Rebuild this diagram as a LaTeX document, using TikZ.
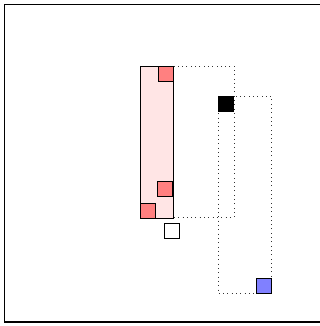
\documentclass[tikz,border=0pt]{standalone}
\begin{document}
\begin{tikzpicture}[x=1pt,y=-1pt,
  sq/.style={draw=black,line width=0.9pt,minimum size=15pt,inner sep=0pt,anchor=north west},
  dotbox/.style={draw=black!80,line width=0.7pt,dash pattern=on 0.7pt off 3.6pt}]
\useasboundingbox (0,0) rectangle (320,326);
\draw[line width=1.8pt] (4.5,4.5) rectangle (322,322);
% dotted boxes
\draw[dotbox] (140,66) rectangle (234,217);
\draw[dotbox] (218,96) rectangle (271,293);
% pink column
\fill[red!10] (140,66) rectangle (173,218);
\draw[line width=0.9pt] (140,66) rectangle (173,218);
% squares
\node[sq,fill=red!50] (r1) at (158,66) {};
\node[sq,fill=red!50] (r2) at (157,181) {};
\node[sq,fill=red!50] (r3) at (140,203) {};
\node[sq,fill=white] (w) at (164,223) {};
\node[sq,fill=black] (k) at (218,96) {};
\node[sq,fill=blue!50] (b) at (256,278) {};
\end{tikzpicture}
\end{document}
